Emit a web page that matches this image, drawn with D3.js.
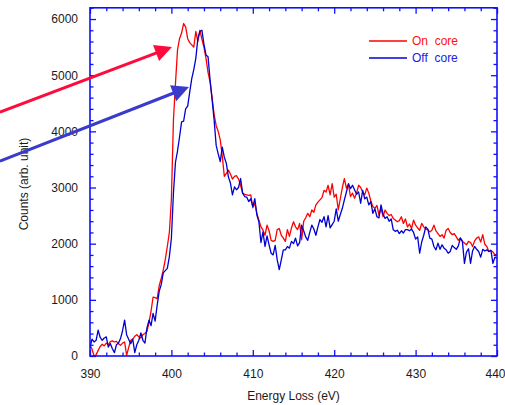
<!DOCTYPE html>
<html><head><meta charset="utf-8">
<script src="https://cdn.jsdelivr.net/npm/d3@7"></script>
<style>body{margin:0;background:#fff} svg{display:block} text{font-family:"Liberation Sans",Arial,sans-serif}</style>
</head><body><svg id="c" width="505" height="405"></svg>
<script>
// energy grid (eV): 390 .. 440 in 0.25 eV steps
const energyStart = 390, energyStep = 0.25;
const onCore = [
200,120,0,20, 100,170,210,180, 230,200,255,270, 250,260,220,190, 230,250,10,150,
280,300,350,380, 340,320,380,400, 440,600,800,1050, 1040,1020,1250,1380, 1530,1720,1950,2200,
2800,4200,4850,5450, 5650,5750,5920,5860, 5650,5580,5540,5500, 5780,5600,5800,5640, 5500,5300,5050,4880,
4600,4300,4100,4000, 3850,3560,3200,3250, 3310,3240,3150,3200, 3210,3150,3040,2900, 2880,2870,2860,2870,
2640,2720,2540,2420, 2300,2240,2150,2330, 2230,2060,2040,2060, 2250,2270,2150,2100, 2040,2250,2130,2280,
2390,2300,2250,2360, 2070,2400,2460,2540, 2480,2600,2560,2690, 2740,2780,2820,2950, 2920,3040,2870,3070,
2830,2880,2600,2800, 3000,3160,2990,3050, 2840,2900,2810,2900, 3040,3000,2920,2870, 2990,2900,2760,2660,
2630,2680,2510,2630, 2480,2600,2540,2500, 2520,2450,2420,2390, 2410,2480,2360,2440, 2300,2350,2270,2420,
2330,2280,2240,2360, 2300,2260,2250,2210, 2240,2330,2230,2180, 2130,2160,2100,2240, 2270,2200,2160,2180,
2120,2060,2100,2040, 2010,1980,2040,2020, 1950,2050,2100,2120, 2030,2160,1990,1950, 1860,1880,1850,1800,
1820];
const offCore = [
150,300,250,280, 460,330,280,320, 340,160,220,130, 60,200,230,310, 450,640,380,300,
220,300,60,200, 280,410,280,230, 500,640,540,760, 620,900,1150,1270, 1480,1520,1560,1770,
2100,2900,3450,3650, 3900,4170,4180,4400, 4450,4700,4940,5100, 5300,5650,5780,5800, 5550,5360,5330,4920,
4560,4200,3750,3600, 3460,3720,3540,3430, 3190,3080,2870,3010, 2960,3000,3160,2900, 2840,2830,2750,2800,
2660,2800,2510,2390, 2020,2210,1950,2140, 1980,1830,1800,1970, 1710,1540,1710,1890, 1890,1950,1920,2040,
2000,2100,1960,2020, 2330,2230,2120,2060, 2200,2330,2260,2150, 2300,2430,2380,2480, 2300,2500,2280,2340,
2400,2620,2400,2520, 2630,2780,2920,3070, 2980,3040,2960,2880, 2920,2720,2950,2800, 2830,2690,2750,2540,
2620,2480,2460,2690, 2530,2450,2480,2400, 2440,2250,2220,2240, 2180,2230,2190,2250, 2250,2230,2260,2200,
2080,2120,1830,2030, 2150,2300,2260,2100, 2080,1950,1890,2010, 1900,1980,1920,1890, 1830,1860,1970,1930,
1900,1960,2100,2040, 1650,1850,1910,1650, 1870,1950,1900,1860, 1760,1900,1870,1890, 1860,1880,1650,1760,
1740];
const xTicks = [390, 400, 410, 420, 430, 440];
const yTicks = [0, 1000, 2000, 3000, 4000, 5000, 6000];
const seriesNames = ["On  core", "Off  core"];
const xTitle = "Energy Loss (eV)";
const yTitle = "Counts (arb. unit)";
// annotation arrows, in data coordinates [energy, counts]
const arrowTails = [[378.94, 4343], [378.94, 3471]];
const arrowTips = [[400.07, 5501], [402.16, 4789]];

const W = 505, H = 405;
const m = {l: 90, r: 8, t: 8, b: 49};
const svg = d3.select("#c");
const x = d3.scaleLinear().domain([390, 440]).range([m.l, 497]);
const y = d3.scaleLinear().domain([0, 6200]).range([356, 7.8]);
const axisCol = "#1010ff";
const lineCols = ["#ff0000", "#0000d0"];
const arrowCols = ["#ff0a3c", "#3a3acc"];
const legendTextCols = ["#ff1010", "#2020e0"];

const series = [onCore, offCore];

svg.append("clipPath").attr("id","clip").append("rect")
  .attr("x", x(390)).attr("y", y(6200)).attr("width", x(440)-x(390)).attr("height", y(0)-y(6200));

const line = d3.line().x((d,i)=>x(energyStart + i*energyStep)).y(d=>y(d));
series.forEach((s,k)=>{
  svg.append("path").attr("d", line(s)).attr("fill","none")
    .attr("stroke", lineCols[k]).attr("stroke-width", 1.3).attr("stroke-linejoin","round")
    .attr("clip-path","url(#clip)");
});

const tickStyle = g => {
  g.select(".domain").remove();
  g.selectAll(".tick line").attr("stroke", axisCol).attr("stroke-width", 1.3);
  g.selectAll(".tick text").attr("fill", "#1a1a1a").attr("font-size", 12)
    .attr("font-family", '"Liberation Sans",Arial,sans-serif');
};
const xMinor = d3.range(390, 440.01, 2).filter(v => v % 10 !== 0);
const yMinor = d3.range(0, 6200.1, 200).filter(v => v % 1000 !== 0);

const xAxisG = svg.append("g").attr("transform", `translate(0,${y(0)})`)
  .call(d3.axisBottom(x).tickValues(xTicks).tickFormat(d3.format("d")).tickSize(-6).tickPadding(13)).call(tickStyle);
// keep the last label inside the page
xAxisG.selectAll(".tick text").filter(d => d === 440).attr("text-anchor","end").attr("x", 8);
svg.append("g").attr("transform", `translate(0,${y(0)})`)
  .call(d3.axisBottom(x).tickValues(xMinor).tickFormat("").tickSize(-3.5)).call(tickStyle);
svg.append("g").attr("transform", `translate(0,${y(6200)})`)
  .call(d3.axisTop(x).tickValues(xTicks).tickFormat("").tickSize(-6)).call(tickStyle);
svg.append("g").attr("transform", `translate(0,${y(6200)})`)
  .call(d3.axisTop(x).tickValues(xMinor).tickFormat("").tickSize(-3.5)).call(tickStyle);
svg.append("g").attr("transform", `translate(${x(390)},0)`)
  .call(d3.axisLeft(y).tickValues(yTicks).tickFormat(d3.format("d")).tickSize(-6).tickPadding(12)).call(tickStyle);
svg.append("g").attr("transform", `translate(${x(390)},0)`)
  .call(d3.axisLeft(y).tickValues(yMinor).tickFormat("").tickSize(-3.5)).call(tickStyle);
svg.append("g").attr("transform", `translate(${x(440)},0)`)
  .call(d3.axisRight(y).tickValues(yTicks).tickFormat("").tickSize(-6)).call(tickStyle);
svg.append("g").attr("transform", `translate(${x(440)},0)`)
  .call(d3.axisRight(y).tickValues(yMinor).tickFormat("").tickSize(-3.5)).call(tickStyle);

svg.append("rect").attr("x", x(390)).attr("y", y(6200)).attr("width", x(440)-x(390)).attr("height", y(0)-y(6200))
  .attr("fill","none").attr("stroke", axisCol).attr("stroke-width", 1.6);

svg.append("text").attr("x", (x(390)+x(440))/2).attr("y", 400).attr("text-anchor","middle")
  .attr("font-size", 12).attr("fill","#1a1a1a").text(xTitle);
svg.append("text").attr("transform", `translate(28,184) rotate(-90)`).attr("text-anchor","middle")
  .attr("font-size", 12).attr("fill","#1a1a1a").text(yTitle);

seriesNames.forEach((n,k)=>{
  const ly = 41 + k*17;
  svg.append("line").attr("x1", 369).attr("x2", 407).attr("y1", ly).attr("y2", ly)
    .attr("stroke", lineCols[k]).attr("stroke-width", 1.3);
  svg.append("text").attr("x", 412).attr("y", ly + 4.3).attr("font-size", 12)
    .attr("fill", legendTextCols[k]).style("white-space","pre").text(n);
});

arrowTails.forEach((t,k)=>{
  const x0 = x(t[0]), y0 = y(t[1]);
  const x1 = x(arrowTips[k][0]), y1 = y(arrowTips[k][1]);
  const dx = x1-x0, dy = y1-y0, len = Math.hypot(dx,dy);
  const ux = dx/len, uy = dy/len;
  const hl = 17, hw = 8.5;
  const bx = x1 - ux*hl, by = y1 - uy*hl;
  svg.append("line").attr("x1", x0).attr("y1", y0).attr("x2", bx + ux*2).attr("y2", by + uy*2)
    .attr("stroke", arrowCols[k]).attr("stroke-width", 3);
  svg.append("path").attr("d", `M${x1},${y1}L${bx - uy*hw},${by + ux*hw}L${bx + uy*hw},${by - ux*hw}Z`)
    .attr("fill", arrowCols[k]);
});
</script></body></html>
